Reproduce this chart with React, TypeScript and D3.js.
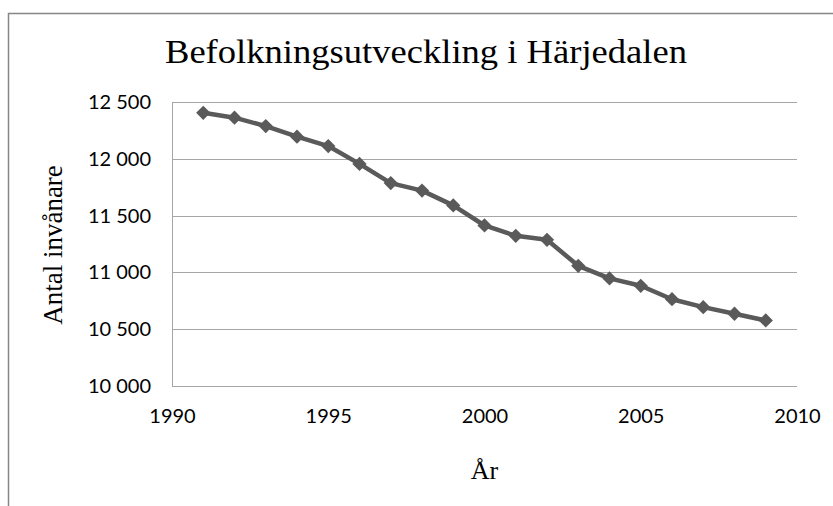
import React, { useRef, useEffect } from 'react';
import * as d3 from 'd3';

const years = [1991, 1992, 1993, 1994, 1995, 1996, 1997, 1998, 1999, 2000,
  2001, 2002, 2003, 2004, 2005, 2006, 2007, 2008, 2009];
const population = [12405, 12362, 12288, 12195, 12112, 11955, 11786, 11720, 11590, 11413,
  11322, 11287, 11058, 10947, 10882, 10764, 10694, 10636, 10577];
const xTicks = [1990, 1995, 2000, 2005, 2010];
const yTicks = [10000, 10500, 11000, 11500, 12000, 12500];

const title = 'Befolkningsutveckling i Härjedalen';
const yLabel = 'Antal invånare';
const xLabel = 'År';

function App() {
  const svgRef = useRef(null);

  useEffect(() => {
    const svg = d3.select(svgRef.current);
    svg.selectAll('*').remove();

    const width = 833;
    const height = 506;
    const margin = { top: 102, right: 36, bottom: 120, left: 172 };
    const serif = '"Liberation Serif", "Times New Roman", serif';
    const sans = 'Lato, "Open Sans", sans-serif';

    // Outer chart border (runs off the right and bottom edges)
    svg.append('rect')
      .attr('x', 8.5)
      .attr('y', 13.5)
      .attr('width', width + 20)
      .attr('height', height + 20)
      .attr('fill', 'white')
      .attr('stroke', '#868686')
      .attr('stroke-width', 1.5);

    const x = d3.scaleLinear()
      .domain([1990, 2010])
      .range([margin.left, width - margin.right]);

    const y = d3.scaleLinear()
      .domain([10000, 12500])
      .range([height - margin.bottom, margin.top]);

    const fmt = d3.formatLocale({ decimal: ',', thousands: ' ', grouping: [3], currency: ['', ' kr'] }).format(',d');

    // Gridlines
    svg.append('g')
      .selectAll('line')
      .data(yTicks)
      .enter()
      .append('line')
      .attr('x1', x(1990))
      .attr('x2', x(2010))
      .attr('y1', d => Math.round(y(d)) + 0.5)
      .attr('y2', d => Math.round(y(d)) + 0.5)
      .attr('stroke', '#a6a6a6')
      .attr('stroke-width', 1);

    // Left axis line
    svg.append('line')
      .attr('x1', x(1990) + 0.5)
      .attr('x2', x(1990) + 0.5)
      .attr('y1', y(12500))
      .attr('y2', y(10000))
      .attr('stroke', '#a6a6a6')
      .attr('stroke-width', 1);

    // Y axis
    const yAxis = svg.append('g')
      .attr('transform', `translate(${margin.left}, 0)`)
      .call(d3.axisLeft(y).tickValues(yTicks).tickFormat(d => fmt(d)).tickSize(0).tickPadding(21));
    yAxis.select('.domain').remove();
    yAxis.selectAll('text')
      .attr('fill', '#000')
      .style('font-family', sans)
      .style('font-size', '20px');

    // X axis
    const xAxis = svg.append('g')
      .attr('transform', `translate(0, ${height - margin.bottom})`)
      .call(d3.axisBottom(x).tickValues(xTicks).tickFormat(d3.format('d')).tickSize(0).tickPadding(23));
    xAxis.select('.domain').remove();
    xAxis.selectAll('text')
      .attr('fill', '#000')
      .style('font-family', sans)
      .style('font-size', '20px');

    // Line
    const line = d3.line()
      .x(d => x(d[0]))
      .y(d => y(d[1]));
    const points = years.map((yr, i) => [yr, population[i]]);

    svg.append('path')
      .datum(points)
      .attr('d', line)
      .attr('fill', 'none')
      .attr('stroke', '#5a5a5a')
      .attr('stroke-width', 4.5)
      .attr('stroke-linejoin', 'round');

    // Diamond markers
    const diamond = d3.symbol().type(d3.symbolDiamond2).size(130);
    svg.append('g')
      .selectAll('path')
      .data(points)
      .enter()
      .append('path')
      .attr('d', diamond)
      .attr('transform', d => `translate(${x(d[0])}, ${y(d[1])})`)
      .attr('fill', '#5a5a5a');

    // Title
    svg.append('text')
      .attr('x', 426)
      .attr('y', 63)
      .attr('text-anchor', 'middle')
      .attr('textLength', 522)
      .attr('lengthAdjust', 'spacingAndGlyphs')
      .style('font-family', serif)
      .style('font-size', '34px')
      .text(title);

    // Axis titles
    svg.append('text')
      .attr('transform', `translate(62, 245) rotate(-90)`)
      .attr('text-anchor', 'middle')
      .style('font-family', serif)
      .style('font-size', '27px')
      .text(yLabel);

    svg.append('text')
      .attr('x', (x(1990) + x(2010)) / 2)
      .attr('y', 479)
      .attr('text-anchor', 'middle')
      .style('font-family', serif)
      .style('font-size', '26px')
      .text(xLabel);
  }, []);

  return (
    <svg
      ref={svgRef}
      width={833}
      height={506}
      style={{ position: 'absolute', left: 0, top: 0, display: 'block' }}
    />
  );
}

export default App;
